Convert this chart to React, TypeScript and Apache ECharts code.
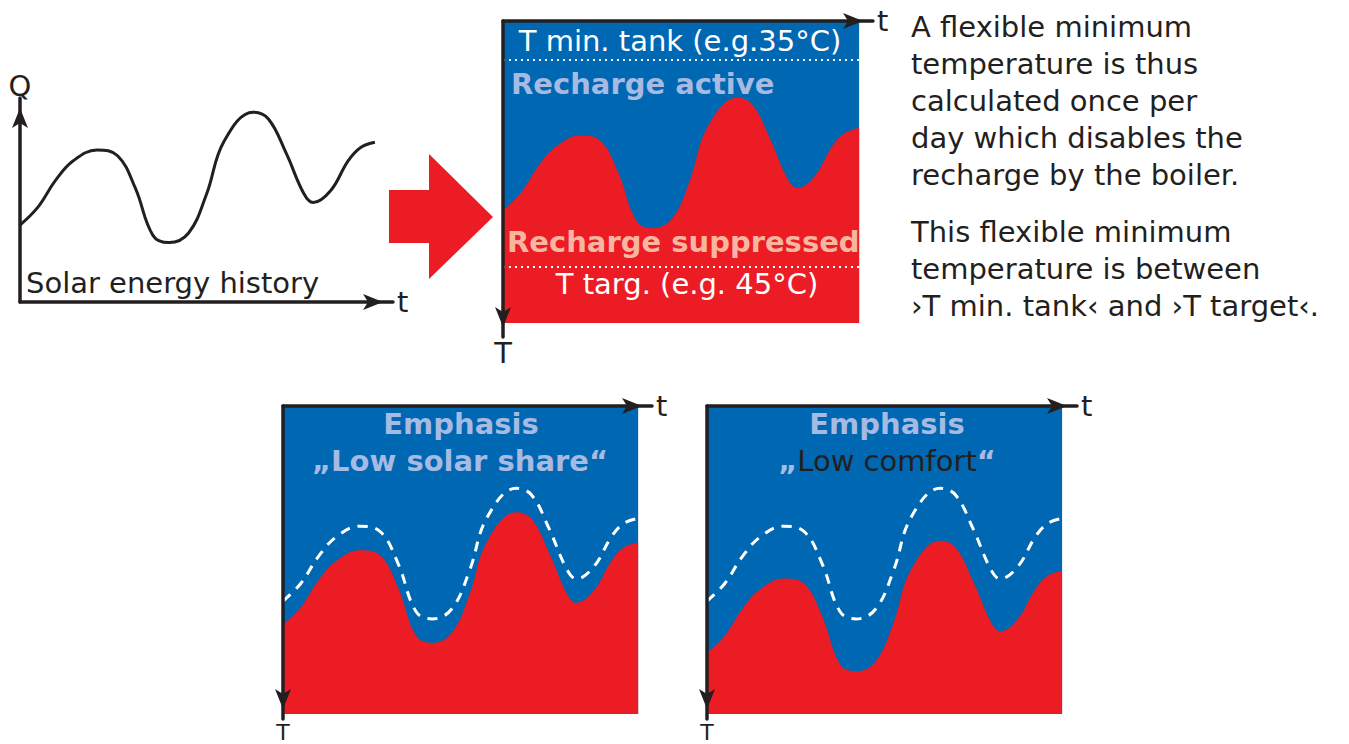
import React, { useEffect, useRef } from 'react';
import * as echarts from 'echarts';

// ---- data ----
// time samples shared by every curve (t = 10 is the right edge of each panel)
const tSamples = [0, 0.5, 1.0, 1.5, 2.17, 2.75, 3.25, 3.75, 4.2, 4.75, 5.25, 5.75, 6.57, 7.0, 7.5, 8.0, 8.26, 8.75, 9.25, 9.6, 10];
// solar energy history Q(t)
const solarQ = [3.85, 4.73, 6.08, 7.06, 7.6, 7.31, 5.69, 3.32, 2.97, 3.45, 5.36, 8.04, 9.49, 9.15, 7.44, 5.41, 4.97, 5.56, 7.07, 7.73, 7.99];
// flexible minimum temperature (top panel), T axis points downwards, 0..10 = panel
const flexMinT = [6.27, 5.69, 4.79, 4.15, 3.79, 3.98, 5.06, 6.62, 6.86, 6.54, 5.27, 3.5, 2.54, 2.76, 3.9, 5.24, 5.53, 5.14, 4.14, 3.71, 3.53];
// emphasis "Low solar share"
const lowSolarRefT = [6.33, 5.76, 4.88, 4.25, 3.9, 4.09, 5.14, 6.68, 6.91, 6.59, 5.35, 3.61, 2.67, 2.89, 4.0, 5.32, 5.61, 5.22, 4.24, 3.81, 3.65];
const lowSolarT = [7.11, 6.54, 5.66, 5.03, 4.68, 4.87, 5.92, 7.46, 7.69, 7.37, 6.13, 4.39, 3.45, 3.67, 4.78, 6.1, 6.39, 6.0, 5.02, 4.59, 4.43];
// emphasis "Low comfort"
const lowComfortRefT = [6.33, 5.76, 4.88, 4.25, 3.9, 4.09, 5.14, 6.68, 6.91, 6.59, 5.35, 3.61, 2.67, 2.89, 4.0, 5.32, 5.61, 5.22, 4.24, 3.81, 3.65];
const lowComfortT = [8.03, 7.46, 6.58, 5.95, 5.6, 5.79, 6.84, 8.38, 8.61, 8.29, 7.05, 5.31, 4.37, 4.59, 5.7, 7.02, 7.31, 6.92, 5.94, 5.51, 5.35];
// panel extent and reference levels
const panelT = [0, 10];
const panelEndT = 10;
const tankMinLevel = 1.29;
const targetLevel = 8.15;

// ---- styles ----
const FONT = '"DejaVu Sans", Verdana, sans-serif';
const DARK = '#231f20';
const BLUE = '#0067b2';
const RED = '#ec1c24';
const LIGHT_BLUE = '#a6bae2';
const SALMON = '#f8b6a0';

const pairs = (xs: number[], ys: number[]) => xs.map((x, i) => [x, ys[i]]);

function axisLine(arrowAtStart: boolean) {
  return {
    show: true,
    onZero: false,
    lineStyle: { color: DARK, width: 3.5 },
    symbol: arrowAtStart ? ['arrow', 'none'] : ['none', 'arrow'],
    symbolSize: [12, 20],
    symbolOffset: [10, -10],
  };
}

function xAx(gridIndex: number, max: number, position: string) {
  return {
    type: 'value', gridIndex, min: 0, max, position, z: 10,
    axisLine: axisLine(false), axisTick: { show: false }, axisLabel: { show: false }, splitLine: { show: false },
    name: 't', nameLocation: 'end', nameGap: 4,
    nameTextStyle: { fontSize: 29, color: DARK, fontFamily: FONT },
  };
}
function yAx(gridIndex: number, max: number, inverse: boolean, name: string, fontSize: number, nameGap: number) {
  return {
    type: 'value', gridIndex, min: 0, max, inverse, z: 10,
    axisLine: axisLine(inverse), axisTick: { show: false }, axisLabel: { show: false }, splitLine: { show: false },
    name, nameLocation: 'end', nameGap,
    nameTextStyle: { fontSize, color: DARK, fontFamily: FONT },
  };
}

function bgSeries(idx: number) {
  return {
    type: 'line', xAxisIndex: idx, yAxisIndex: idx, z: 1, silent: true,
    data: [[0, panelT[0]], [panelEndT, panelT[0]]],
    showSymbol: false, symbol: 'none',
    lineStyle: { width: 0 },
    areaStyle: { color: BLUE, opacity: 1, origin: panelT[1] },
  };
}
function redSeries(idx: number, values: number[], extra: any = {}) {
  return {
    type: 'line', xAxisIndex: idx, yAxisIndex: idx, z: 2, silent: true,
    data: pairs(tSamples, values),
    smooth: 0.4, showSymbol: false, symbol: 'none',
    lineStyle: { width: 0 },
    areaStyle: { color: RED, opacity: 1, origin: panelT[1] },
    ...extra,
  };
}
function dashedSeries(idx: number, values: number[]) {
  return {
    type: 'line', xAxisIndex: idx, yAxisIndex: idx, z: 3, silent: true,
    data: pairs(tSamples, values),
    smooth: 0.4, showSymbol: false, symbol: 'none',
    lineStyle: { color: '#ffffff', width: 3, type: [10, 8] },
  };
}

function txt(x: number, y: number, text: string, opts: any = {}) {
  return {
    type: 'text', x, y, z: 100, silent: true,
    style: {
      text, fill: opts.fill || DARK, fontSize: opts.fontSize || 29, fontFamily: FONT,
      fontWeight: opts.fontWeight || 'normal', align: opts.align || 'left',
      verticalAlign: opts.verticalAlign || 'middle', lineHeight: opts.lineHeight, rich: opts.rich,
    },
  };
}

export default function App() {
  const ref = useRef<HTMLDivElement>(null);
  useEffect(() => {
    if (!ref.current) return;
    const chart = echarts.init(ref.current, undefined, { renderer: 'svg' });
    chart.setOption({
      animation: false,
      backgroundColor: '#ffffff',
      grid: [
        { left: 20, top: 98, width: 373, height: 204 },
        { left: 503, top: 21, width: 370, height: 316 },
        { left: 283, top: 406, width: 369, height: 313 },
        { left: 707, top: 406, width: 370, height: 313 },
      ],
      xAxis: [
        xAx(0, 10.51, 'bottom'),
        xAx(1, 10.39, 'top'),
        xAx(2, 10.39, 'top'),
        xAx(3, 10.42, 'top'),
      ],
      yAxis: [
        yAx(0, 10.2, false, 'Q', 29, -2),
        yAx(1, 10.46, true, 'T', 29, 1),
        yAx(2, 10.16, true, 'T', 22, 2),
        yAx(3, 10.16, true, 'T', 22, 2),
      ],
      series: [
        {
          type: 'line', xAxisIndex: 0, yAxisIndex: 0, z: 2, silent: true,
          data: pairs(tSamples, solarQ), smooth: 0.4, showSymbol: false, symbol: 'none',
          lineStyle: { color: DARK, width: 3 },
        },
        bgSeries(1),
        redSeries(1, flexMinT, {
          markLine: {
            silent: true, symbol: 'none', label: { show: false },
            lineStyle: { color: '#ffffff', width: 2, type: [2, 4] },
            data: [
              [{ coord: [0, tankMinLevel] }, { coord: [panelEndT, tankMinLevel] }],
              [{ coord: [0, targetLevel] }, { coord: [panelEndT, targetLevel] }],
            ],
          },
        }),
        bgSeries(2),
        redSeries(2, lowSolarT),
        dashedSeries(2, lowSolarRefT),
        bgSeries(3),
        redSeries(3, lowComfortT),
        dashedSeries(3, lowComfortRefT),
      ],
      graphic: [
        { type: 'polygon', z: 50, silent: true, shape: { points: [[389, 190], [429, 190], [429, 154], [493, 217], [429, 279], [429, 243], [389, 243]] }, style: { fill: RED } },
        txt(26, 283, 'Solar energy history'),
        txt(680, 41, 'T min. tank (e.g.35°C)', { fill: '#ffffff', align: 'center' }),
        txt(511, 84, 'Recharge active', { fill: LIGHT_BLUE, fontWeight: 'bold' }),
        txt(507, 242, 'Recharge suppressed', { fill: SALMON, fontWeight: 'bold' }),
        txt(687, 284, 'T targ. (e.g. 45°C)', { fill: '#ffffff', align: 'center' }),
        txt(461, 424, 'Emphasis', { fill: LIGHT_BLUE, fontWeight: 'bold', align: 'center' }),
        txt(460, 461, '„Low solar share“', { fill: LIGHT_BLUE, fontWeight: 'bold', align: 'center' }),
        txt(887, 424, 'Emphasis', { fill: LIGHT_BLUE, fontWeight: 'bold', align: 'center' }),
        txt(887, 461, '{q|„}{d|Low comfort}{q|“}', {
          align: 'center',
          rich: {
            q: { fill: LIGHT_BLUE, fontWeight: 'bold', fontSize: 29, fontFamily: FONT },
            d: { fill: DARK, fontWeight: 'normal', fontSize: 29, fontFamily: FONT },
          },
        }),
        txt(911, 8.5, 'A flexible minimum\ntemperature is thus\ncalculated once per\nday which disables the\nrecharge by the boiler.', { verticalAlign: 'top', lineHeight: 37 }),
        txt(911, 213.5, 'This flexible minimum\ntemperature is between\n›T min. tank‹ and ›T target‹.', { verticalAlign: 'top', lineHeight: 37 }),
      ],
    });
    return () => chart.dispose();
  }, []);
  return <div ref={ref} style={{ position: 'absolute', left: 0, top: 0, width: 1349, height: 744 }} />;
}
